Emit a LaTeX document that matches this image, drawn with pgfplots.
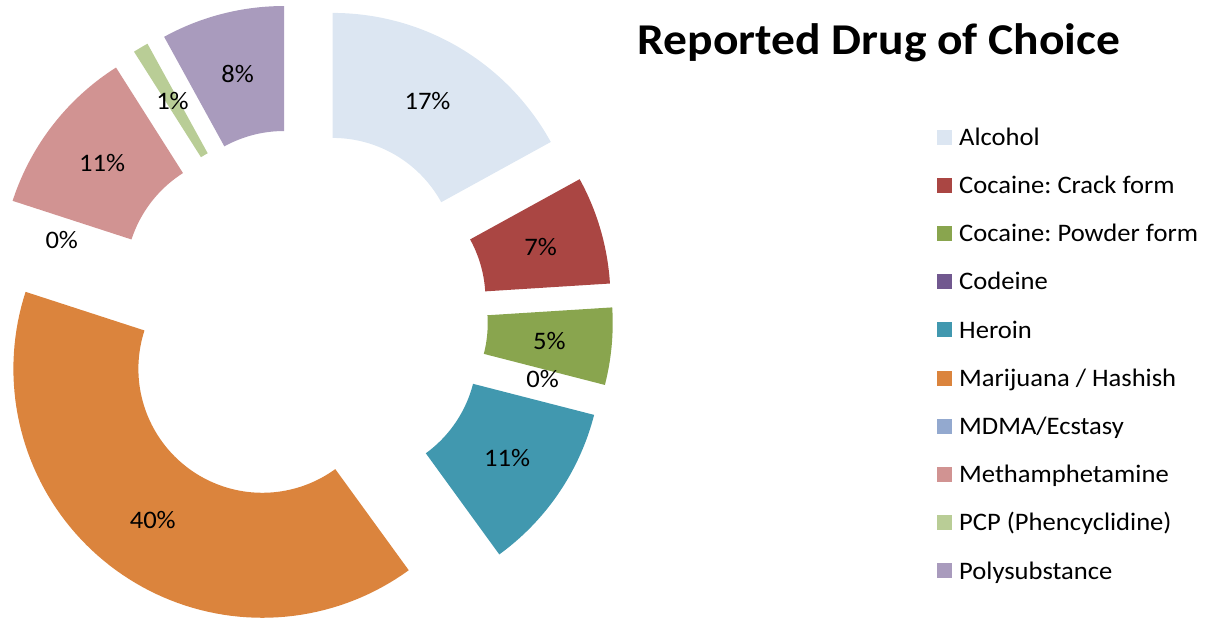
\documentclass[border=0pt]{standalone}
\usepackage{pgfplots}
\usepackage{pgfplotstable}
\pgfplotsset{compat=1.18}
\usepackage{fontspec}
\setmainfont{Carlito}[FakeStretch=1.055]
\newfontfamily\titlefont{Carlito}[FakeStretch=1.08]

\definecolor{cAlc}{HTML}{DCE6F2}
\definecolor{cCrack}{HTML}{AA4643}
\definecolor{cPowder}{HTML}{89A54E}
\definecolor{cCod}{HTML}{71588F}
\definecolor{cHer}{HTML}{4198AF}
\definecolor{cMar}{HTML}{DB843D}
\definecolor{cMDMA}{HTML}{93A9CF}
\definecolor{cMeth}{HTML}{D19392}
\definecolor{cPCP}{HTML}{B9CD96}
\definecolor{cPoly}{HTML}{A99BBD}

% geometry in pixels of the reference
\def\Cx{300}
\def\Cy{317}
\def\Dx{64}
\def\Ro{249}
\def\Ri{124}
\def\Lr{250.5}

% label table: middle of each slice (cumulative percent) and its value
\pgfplotstableread{
mid pct
8.5 17
20.5 7
26.5 5
29 0
34.5 11
60 40
80 0
85.5 11
91.5 1
96 8
}\labeltab

\newcommand\donut[3]{%
  \pgfmathsetmacro\aA{90-3.6*(#1)}%
  \pgfmathsetmacro\aB{90-3.6*(#2)}%
  \pgfmathsetmacro\aM{90-1.8*((#1)+(#2))}%
  \pgfmathsetmacro\ox{\Cx+\Dx*cos(\aM)}%
  \pgfmathsetmacro\oy{\Cy-\Dx*sin(\aM)}%
  \addplot[fill=#3, draw=none, domain=0:3, samples=241, variable=\t]
    ({\ox+wrad(\t)*cos(wang(\t,\aA,\aB))}, {\oy-wrad(\t)*sin(wang(\t,\aA,\aB))});%
}

\begin{document}
\frenchspacing
\begin{tikzpicture}
\begin{axis}[
  at={(0,0)}, anchor=south west,
  width=1213pt, height=622pt, scale only axis,
  xmin=0, xmax=1213, ymin=0, ymax=622, y dir=reverse,
  hide axis, clip=false,
  declare function={
    wrad(\ss)=((\ss<=1) ? \Ro : ((\ss<=2) ? (\Ro-(\ss-1)*(\Ro-\Ri)) : \Ri));
    wang(\ss,\pa,\pb)=((\ss<=1) ? (\pa+\ss*(\pb-\pa)) : ((\ss<=2) ? \pb : (\pb-(\ss-2)*(\pb-\pa))));
  },
  legend image code/.code={\fill[#1] (0pt,-4.4pt) rectangle (15pt,10.6pt);},
  legend cell align=left,
  legend style={draw=none, fill=none, inner sep=0pt,
    at={(axis cs:937,128.5)}, anchor=north west,
    row sep=25.2pt, column sep=7pt,
    font=\fontsize{25.2}{30}\selectfont,
    nodes={inner sep=0pt, text height=16.5pt, text depth=6.5pt}},
]
% values: Alcohol 17, Crack 7, Powder 5, Codeine 0, Heroin 11,
% Marijuana 40, MDMA 0, Meth 11, PCP 1, Poly 8
\donut{0}{17}{cAlc}
\addlegendentry{Alcohol}
\donut{17}{24}{cCrack}
\addlegendentry{Cocaine: Crack form}
\donut{24}{29}{cPowder}
\addlegendentry{Cocaine: Powder form}
\addlegendimage{fill=cCod, draw=none}
\addlegendentry{Codeine}
\donut{29}{40}{cHer}
\addlegendentry{Heroin}
\donut{40}{80}{cMar}
\addlegendentry{Marijuana / Hashish}
\addlegendimage{fill=cMDMA, draw=none}
\addlegendentry{MDMA/Ecstasy}
\donut{80}{91}{cMeth}
\addlegendentry{Methamphetamine}
\donut{91}{92}{cPCP}
\addlegendentry{PCP (Phencyclidine)}
\donut{92}{100}{cPoly}
\addlegendentry{Polysubstance}

\addplot[forget plot, draw=none, mark=none,
  point meta=explicit symbolic,
  nodes near coords={\pgfplotspointmeta\%},
  nodes near coords align=center,
  every node near coord/.append style={anchor=center, inner sep=0pt,
    font=\fontsize{25.2}{30}\selectfont, text=black}]
  table[x expr={\Cx+\Lr*cos(90-3.6*\thisrow{mid})},
        y expr={\Cy-\Lr*sin(90-3.6*\thisrow{mid})},
        meta=pct] {\labeltab};

\node[anchor=base, font=\titlefont\bfseries\fontsize{44}{50}\selectfont]
  at (axis cs:879,54.5) {Reported Drug of Choice};
\end{axis}
\pgfresetboundingbox
\useasboundingbox (0,0) rectangle (1213pt,622pt);
\end{tikzpicture}
\end{document}
